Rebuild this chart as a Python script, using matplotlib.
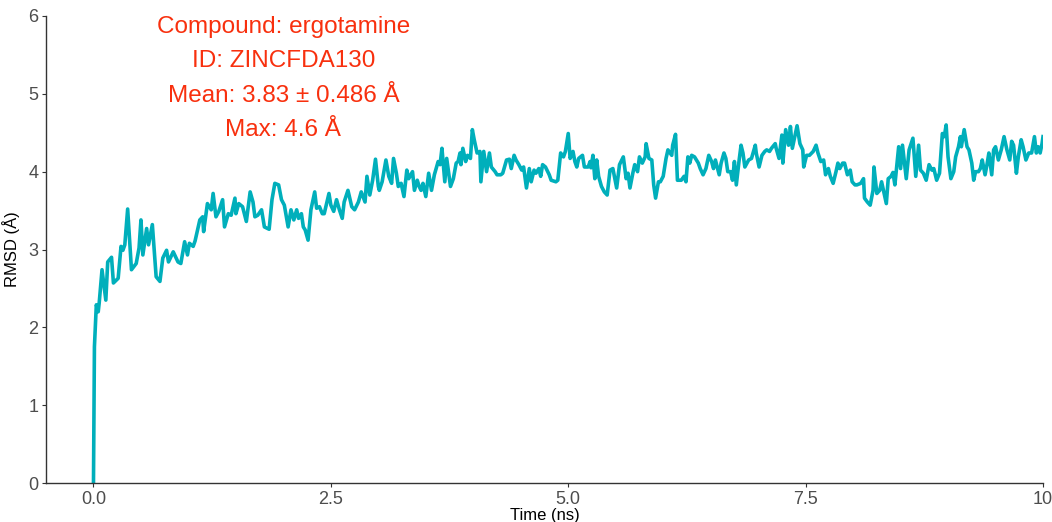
import matplotlib
matplotlib.use("Agg")
import matplotlib.pyplot as plt

plt.rcParams['font.family'] = ['Liberation Sans', 'DejaVu Sans']

time_ns = [
    0.00, 0.01, 0.03, 0.05, 0.06, 0.09, 0.13, 0.15, 0.19, 0.21, 0.26, 0.29, 0.31, 0.33, 0.36, 0.40,
    0.45, 0.48, 0.50, 0.52, 0.56, 0.58, 0.62, 0.66, 0.70, 0.73, 0.77, 0.79, 0.84, 0.89, 0.92, 0.96,
    0.99, 1.01, 1.05, 1.07, 1.12, 1.15, 1.16, 1.20, 1.24, 1.26, 1.29, 1.32, 1.36, 1.38, 1.42, 1.45,
    1.49, 1.50, 1.53, 1.57, 1.61, 1.65, 1.68, 1.70, 1.73, 1.77, 1.80, 1.85, 1.88, 1.91, 1.95, 1.98,
    2.01, 2.05, 2.08, 2.11, 2.14, 2.16, 2.19, 2.21, 2.23, 2.26, 2.29, 2.33, 2.35, 2.38, 2.41, 2.43,
    2.48, 2.50, 2.53, 2.56, 2.59, 2.62, 2.64, 2.68, 2.72, 2.75, 2.79, 2.82, 2.86, 2.88, 2.91, 2.94,
    2.97, 3.00, 3.01, 3.04, 3.08, 3.11, 3.14, 3.16, 3.19, 3.21, 3.24, 3.27, 3.30, 3.32, 3.36, 3.38,
    3.41, 3.43, 3.45, 3.47, 3.50, 3.53, 3.56, 3.59, 3.63, 3.65, 3.67, 3.70, 3.72, 3.76, 3.79, 3.82,
    3.84, 3.86, 3.87, 3.89, 3.92, 3.94, 3.97, 3.99, 4.01, 4.04, 4.07, 4.08, 4.11, 4.14, 4.17, 4.19,
    4.23, 4.25, 4.29, 4.31, 4.35, 4.38, 4.40, 4.43, 4.45, 4.48, 4.51, 4.53, 4.56, 4.59, 4.61, 4.64,
    4.66, 4.69, 4.71, 4.73, 4.76, 4.80, 4.82, 4.87, 4.89, 4.92, 4.95, 4.97, 5.00, 5.02, 5.05, 5.07,
    5.09, 5.11, 5.15, 5.17, 5.21, 5.23, 5.24, 5.26, 5.28, 5.30, 5.32, 5.35, 5.38, 5.41, 5.44, 5.47,
    5.51, 5.54, 5.58, 5.61, 5.63, 5.65, 5.68, 5.70, 5.73, 5.75, 5.78, 5.81, 5.82, 5.85, 5.88, 5.90,
    5.92, 5.95, 5.97, 6.00, 6.03, 6.05, 6.09, 6.10, 6.13, 6.15, 6.19, 6.22, 6.24, 6.26, 6.28, 6.30,
    6.33, 6.37, 6.39, 6.42, 6.45, 6.48, 6.51, 6.53, 6.55, 6.59, 6.61, 6.64, 6.66, 6.68, 6.71, 6.73,
    6.75, 6.77, 6.80, 6.82, 6.84, 6.86, 6.90, 6.93, 6.97, 6.98, 7.01, 7.04, 7.07, 7.09, 7.12, 7.14,
    7.18, 7.19, 7.22, 7.25, 7.26, 7.29, 7.32, 7.34, 7.36, 7.39, 7.41, 7.44, 7.47, 7.48, 7.51, 7.54,
    7.58, 7.61, 7.63, 7.66, 7.69, 7.71, 7.74, 7.76, 7.79, 7.82, 7.84, 7.86, 7.89, 7.91, 7.94, 7.97,
    7.99, 8.02, 8.04, 8.08, 8.11, 8.12, 8.15, 8.18, 8.21, 8.22, 8.25, 8.28, 8.30, 8.32, 8.35, 8.37,
    8.40, 8.42, 8.44, 8.48, 8.50, 8.52, 8.56, 8.59, 8.63, 8.66, 8.69, 8.71, 8.74, 8.77, 8.80, 8.83,
    8.85, 8.88, 8.91, 8.94, 8.96, 8.98, 9.00, 9.03, 9.06, 9.08, 9.11, 9.13, 9.14, 9.17, 9.20, 9.22,
    9.25, 9.27, 9.29, 9.32, 9.34, 9.36, 9.39, 9.41, 9.43, 9.46, 9.48, 9.50, 9.53, 9.56, 9.59, 9.62,
    9.65, 9.67, 9.69, 9.72, 9.74, 9.77, 9.79, 9.82, 9.85, 9.88, 9.91, 9.93, 9.95, 9.97, 9.99, 10.00,
]

rmsd = [
    0.00, 1.75, 2.29, 2.20, 2.31, 2.74, 2.35, 2.84, 2.90, 2.57, 2.63, 3.04, 2.99, 3.06, 3.52, 2.74,
    2.82, 3.02, 3.38, 2.93, 3.27, 3.06, 3.32, 2.65, 2.59, 2.89, 2.99, 2.84, 2.97, 2.84, 2.82, 3.10,
    2.93, 3.08, 3.04, 3.11, 3.38, 3.42, 3.23, 3.59, 3.51, 3.72, 3.42, 3.49, 3.64, 3.29, 3.46, 3.44,
    3.66, 3.46, 3.59, 3.55, 3.36, 3.74, 3.61, 3.42, 3.44, 3.51, 3.29, 3.26, 3.64, 3.85, 3.83, 3.64,
    3.57, 3.29, 3.51, 3.38, 3.51, 3.40, 3.46, 3.29, 3.25, 3.12, 3.51, 3.74, 3.53, 3.55, 3.46, 3.46,
    3.72, 3.57, 3.49, 3.64, 3.51, 3.40, 3.61, 3.76, 3.55, 3.51, 3.61, 3.74, 3.61, 3.94, 3.70, 3.89,
    4.16, 3.81, 3.76, 3.87, 4.15, 3.94, 3.85, 4.17, 3.98, 3.81, 3.85, 3.68, 4.02, 3.91, 4.00, 3.76,
    3.89, 3.81, 3.76, 3.85, 3.68, 3.98, 3.76, 3.96, 4.13, 4.09, 4.30, 3.87, 4.17, 3.81, 3.91, 4.11,
    4.13, 4.24, 4.09, 4.30, 4.13, 4.21, 4.17, 4.54, 4.41, 4.24, 4.26, 3.87, 4.26, 4.00, 4.24, 4.06,
    4.00, 3.96, 3.96, 3.98, 4.15, 4.16, 4.04, 4.21, 4.15, 4.09, 4.02, 4.06, 3.79, 4.04, 3.87, 4.02,
    3.98, 4.04, 3.94, 4.09, 4.06, 3.96, 3.89, 3.87, 3.89, 4.24, 4.19, 4.26, 4.49, 4.17, 4.26, 4.13,
    4.06, 4.17, 4.21, 4.06, 4.06, 4.13, 4.05, 4.21, 3.91, 4.15, 3.94, 3.81, 3.74, 3.70, 4.02, 4.04,
    3.79, 4.09, 4.19, 3.91, 3.98, 3.79, 3.98, 4.09, 4.00, 4.19, 4.11, 4.19, 4.36, 4.17, 4.15, 3.83,
    3.66, 3.87, 3.87, 3.94, 4.17, 4.28, 4.21, 4.34, 4.48, 3.89, 3.89, 3.94, 3.87, 4.19, 4.11, 4.21,
    4.19, 4.11, 4.04, 3.96, 4.04, 4.21, 4.13, 4.04, 4.15, 3.96, 4.11, 4.24, 4.17, 4.00, 4.00, 3.89,
    4.13, 3.83, 4.15, 4.34, 4.24, 4.06, 4.15, 4.17, 4.34, 4.24, 4.06, 4.21, 4.26, 4.28, 4.26, 4.30,
    4.36, 4.30, 4.17, 4.47, 4.11, 4.54, 4.34, 4.58, 4.30, 4.47, 4.59, 4.36, 4.28, 4.06, 4.21, 4.21,
    4.26, 4.34, 4.24, 4.13, 4.15, 3.96, 4.04, 3.94, 3.85, 4.00, 4.11, 4.04, 4.11, 4.11, 3.96, 4.02,
    3.87, 3.83, 3.83, 3.85, 3.91, 3.66, 3.61, 3.57, 3.76, 4.06, 3.72, 3.76, 3.87, 3.76, 3.59, 3.91,
    3.94, 3.99, 3.83, 4.32, 4.04, 4.34, 3.91, 4.28, 4.43, 3.94, 4.34, 4.02, 3.98, 3.89, 4.09, 4.02,
    4.04, 3.89, 3.98, 4.49, 4.45, 4.60, 4.19, 3.91, 4.00, 4.19, 4.32, 4.45, 4.32, 4.54, 4.32, 4.28,
    4.11, 3.89, 4.00, 4.00, 4.04, 4.15, 3.96, 4.09, 4.24, 3.96, 4.28, 4.32, 4.15, 4.28, 4.45, 4.28,
    4.15, 4.39, 4.34, 3.98, 4.19, 4.41, 4.32, 4.15, 4.24, 4.24, 4.45, 4.24, 4.32, 4.24, 4.36, 4.45,
]

info_lines = ["Compound: ergotamine", "ID: ZINCFDA130", "Mean: 3.83 \u00b1 0.486 \u00c5", "Max: 4.6 \u00c5"]
x_ticks = [0.0, 2.5, 5.0, 7.5, 10.0]
x_tick_labels = ["0.0", "2.5", "5.0", "7.5", "10"]
y_ticks = [0, 1, 2, 3, 4, 5, 6]

line_color = "#00AFBB"
text_color = "#F8300E"

fig = plt.figure(figsize=(10.52, 5.22), dpi=100)
ax = fig.add_axes([46 / 1052, 39 / 522, (1043 - 46) / 1052, (483 - 16) / 522])
ax.plot(time_ns, rmsd, color=line_color, linewidth=2.6, solid_joinstyle='round')
ax.set_xlim(-0.5, 10.0)
ax.set_ylim(0, 6)
ax.set_xticks(x_ticks)
ax.set_xticklabels(x_tick_labels)
ax.set_yticks(y_ticks)
for s in ["top", "right"]:
    ax.spines[s].set_visible(False)
for s in ["left", "bottom"]:
    ax.spines[s].set_color("#333333")
    ax.spines[s].set_linewidth(1.0)
ax.tick_params(axis="both", colors="#333333", labelcolor="#4D4D4D", labelsize=13, length=3, width=0.8, pad=2.5)
ax.set_xlabel("Time (ns)", fontsize=12, color="black", labelpad=0)
ax.set_ylabel("RMSD (\u00c5)", fontsize=12, color="black", labelpad=6)

text_y = [5.86, 5.42, 4.97, 4.53]
for line, yy in zip(info_lines, text_y):
    ax.text(2.0, yy, line, color=text_color, fontsize=17.5, ha="center", va="center")

fig.savefig("out.png", dpi=100)
